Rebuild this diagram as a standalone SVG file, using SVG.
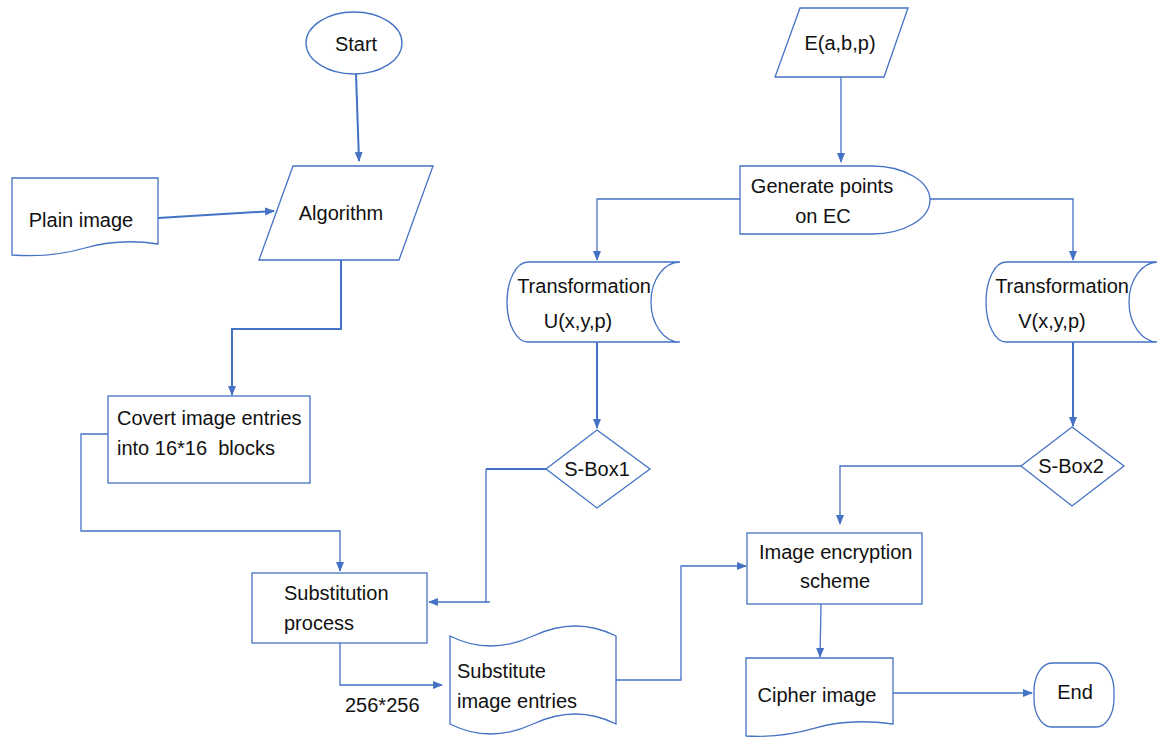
<svg xmlns="http://www.w3.org/2000/svg" width="1157" height="739" viewBox="0 0 1157 739">
<style>
.n{fill:#fff;stroke:#4472C4;stroke-width:1.3}
.c{fill:none;stroke:#4472C4;stroke-width:1.3}
.t{stroke-width:2}
text{font-family:"Liberation Sans",Arial,sans-serif;font-size:20px;fill:#111;white-space:pre}
.m{text-anchor:middle}
</style>
<defs>
<marker id="a" markerUnits="userSpaceOnUse" markerWidth="10" markerHeight="10" viewBox="0 0 10 10" refX="9" refY="5" orient="auto">
<path d="M0,1 L10,5 L0,9 Z" fill="#4472C4"/>
</marker>
</defs>
<rect width="1157" height="739" fill="#fff"/>
<g id="connectors">
<path class="c t" d="M356,74 L359,161" marker-end="url(#a)"/>
<path class="c t" d="M158,218 L274,211" marker-end="url(#a)"/>
<path class="c t" d="M341,260 V329 H232 V395" marker-end="url(#a)"/>
<path class="c" d="M108,434 H81 V531 H340 V571" marker-end="url(#a)"/>
<path class="c" d="M340,643 V685 H442" marker-end="url(#a)"/>
<path class="c" d="M841,77 V162" marker-end="url(#a)"/>
<path class="c" d="M740,199 H597 V260" marker-end="url(#a)"/>
<path class="c" d="M930,199 H1073 V260" marker-end="url(#a)"/>
<path class="c t" d="M597,342 V428" marker-end="url(#a)"/>
<path class="c t" d="M1073,342 V426" marker-end="url(#a)"/>
<path class="c t" d="M546,469 H486"/>
<path class="c" d="M486,469 V603"/>
<path class="c" d="M490,602 H429" marker-end="url(#a)"/>
<path class="c" d="M1021,466 H840 V524" marker-end="url(#a)"/>
<path class="c" d="M616,680 H681 V566 H746" marker-end="url(#a)"/>
<path class="c" d="M821,604 L820,657" marker-end="url(#a)"/>
<path class="c" d="M893,693 L1032,693" marker-end="url(#a)"/>
</g>
<g id="start">
<ellipse class="n" cx="354" cy="43" rx="48" ry="31"/>
<text class="m" x="356" y="51">Start</text>
</g>
<g id="algorithm">
<path class="n" d="M293,166 H433 L399,260 H259 Z"/>
<text class="m" x="341" y="220">Algorithm</text>
</g>
<g id="plain-image">
<path class="n" d="M12,178 H158 V244 Q120,238 85,248 T12,255 Z"/>
<text class="m" x="81" y="227">Plain image</text>
</g>
<g id="covert">
<rect class="n" x="108" y="396" width="202" height="87"/>
<text x="117" y="425">Covert image entries</text>
<text x="117" y="455">into 16*16  blocks</text>
</g>
<g id="substitution">
<rect class="n" x="252" y="573" width="175" height="70"/>
<text x="284" y="600">Substitution</text>
<text x="284" y="630">process</text>
</g>
<g id="label-256">
<text x="345" y="712">256*256</text>
</g>
<g id="ec">
<path class="n" d="M800,8 H908 L884,77 H775 Z"/>
<text class="m" x="840" y="50">E(a,b,p)</text>
</g>
<g id="generate">
<path class="n" d="M740,166 H872 A58,34 0 0 1 872,234 H740 Z"/>
<text class="m" x="822" y="193">Generate points</text>
<text class="m" x="823" y="223">on EC</text>
</g>
<g id="transform-u">
<path class="n" d="M528,262 H680 A29,40 0 0 0 680,342 H528 A21,40 0 0 1 528,262 Z"/>
<text class="m" x="584" y="293">Transformation</text>
<text class="m" x="578" y="328">U(x,y,p)</text>
</g>
<g id="transform-v">
<path class="n" d="M1006,262 H1158 A29,40 0 0 0 1158,342 H1006 A20,40 0 0 1 1006,262 Z"/>
<text class="m" x="1062" y="293">Transformation</text>
<text class="m" x="1052" y="328">V(x,y,p)</text>
</g>
<g id="sbox1">
<path class="n" d="M597,430 L650,469 L597,508 L546,469 Z"/>
<text class="m" x="597" y="476">S-Box1</text>
</g>
<g id="sbox2">
<path class="n" d="M1072,427 L1124,466 L1072,506 L1021,466 Z"/>
<text class="m" x="1071" y="473">S-Box2</text>
</g>
<g id="image-encryption">
<rect class="n" x="747" y="533" width="175" height="71"/>
<text x="759" y="559">Image encryption</text>
<text class="m" x="835" y="588">scheme</text>
</g>
<g id="substitute">
<path class="n" d="M450,636 Q490,656 533,636 Q576,616 616,636 V724 Q576,704 533,724 Q490,744 450,724 Z"/>
<text x="457" y="678">Substitute</text>
<text x="457" y="708">image entries</text>
</g>
<g id="cipher">
<path class="n" d="M746,658 H893 V724 Q850,718 815,728 T746,736 Z"/>
<text class="m" x="817" y="702">Cipher image</text>
</g>
<g id="end">
<rect class="n" x="1034" y="663" width="80" height="64" rx="18" ry="28"/>
<text class="m" x="1075" y="699">End</text>
</g>
</svg>
